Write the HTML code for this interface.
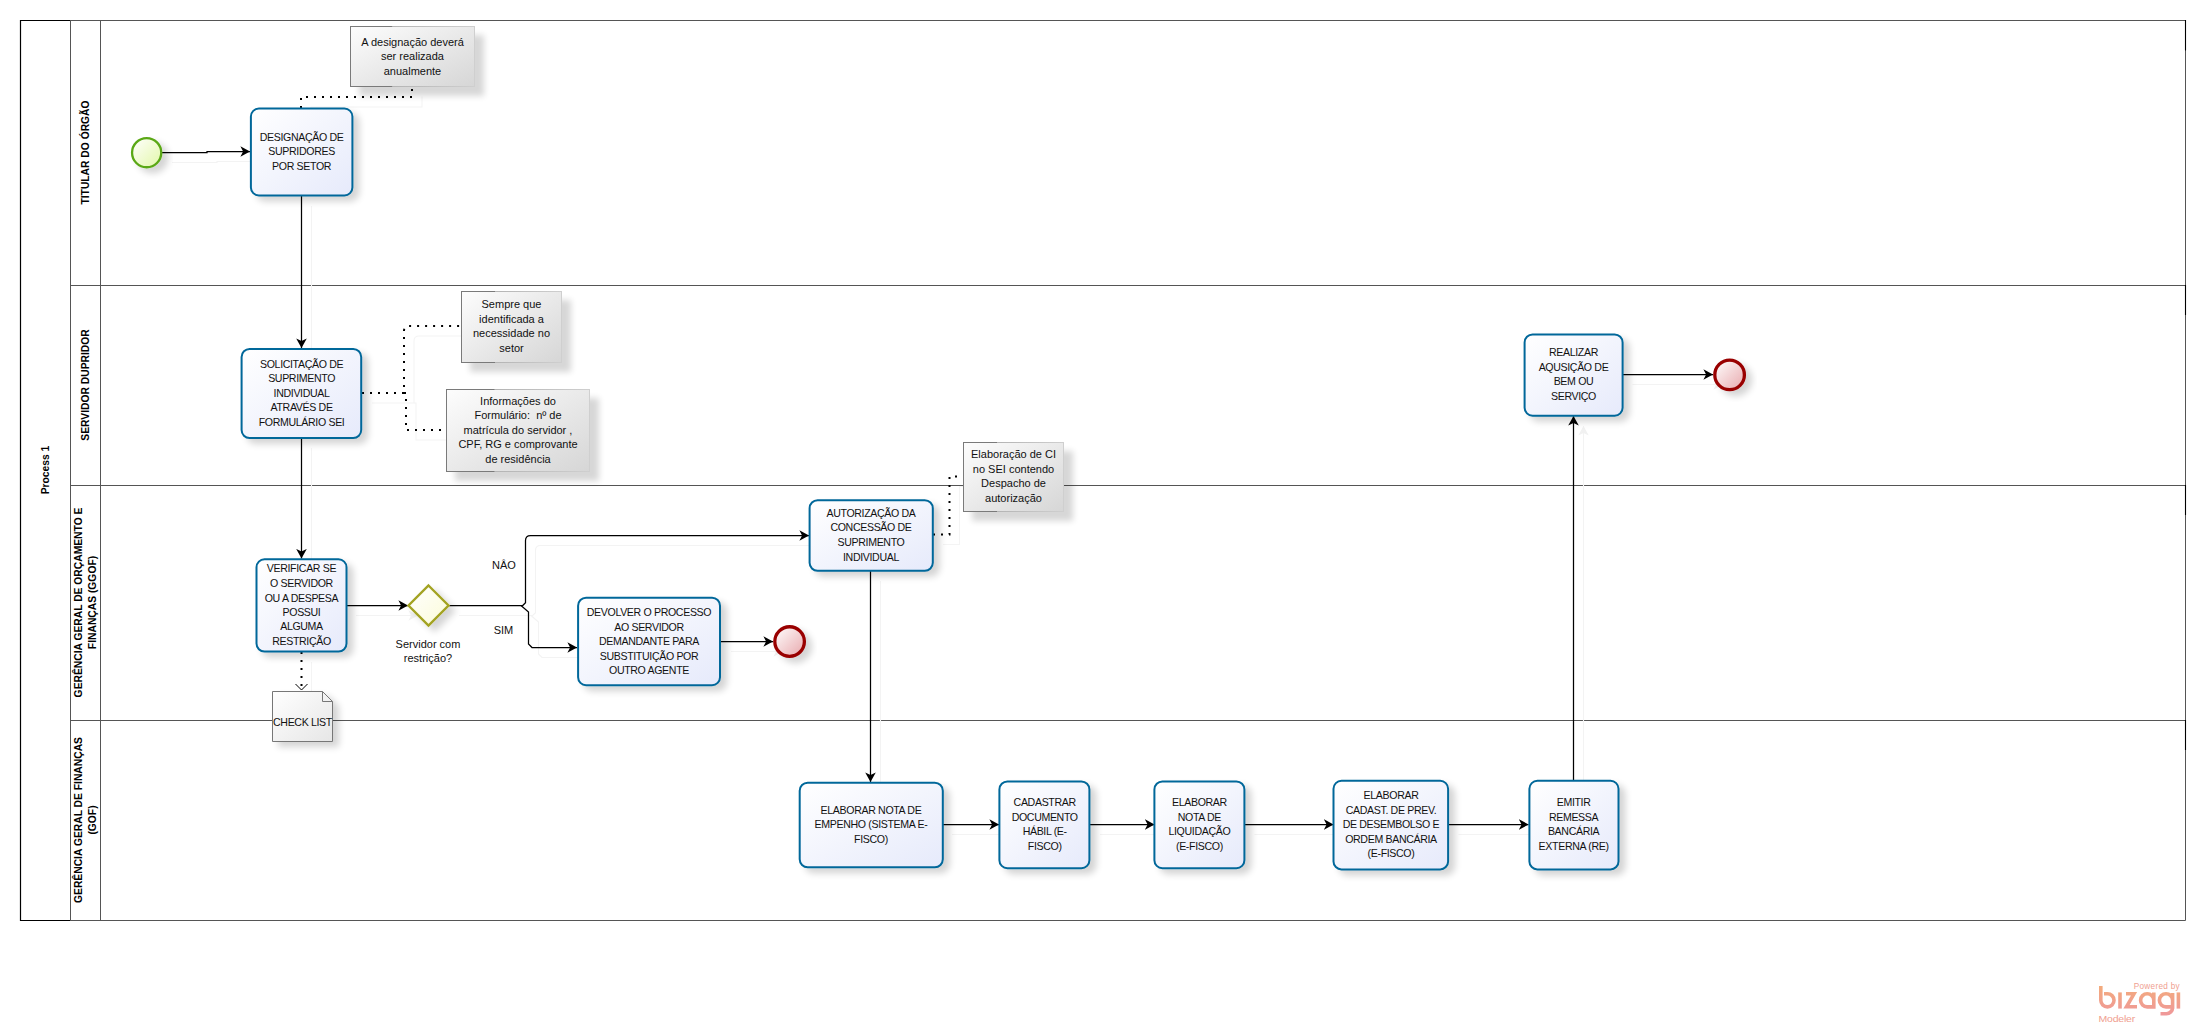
<!DOCTYPE html>
<html><head><meta charset="utf-8">
<style>
html,body{margin:0;padding:0;background:#fff;overflow:hidden;}
svg{display:block;}
text{font-family:"Liberation Sans",sans-serif;fill:#111;}
.t{font-size:10.6px;letter-spacing:-0.35px;text-anchor:middle;}
.a{font-size:11px;text-anchor:middle;}
.h{font-size:10.3px;font-weight:bold;text-anchor:middle;fill:#000;}
.task{fill:url(#gTask);stroke:#05679a;stroke-width:2;filter:url(#sh);}
.ann{fill:url(#gAnn);stroke:url(#gAnnS);stroke-width:1;filter:url(#sh2);}
.flow{fill:none;stroke:#000;stroke-width:1.25;}
.dot{fill:none;stroke:#000;stroke-width:2;stroke-dasharray:2 6;}
.lane{stroke:#555;stroke-width:1;fill:none;}
</style></head>
<body>
<svg width="2205" height="1033" viewBox="0 0 2205 1033">
<defs>
  <linearGradient id="gTask" x1="0" y1="0" x2="1" y2="1"><stop offset="0" stop-color="#ffffff"/><stop offset="1" stop-color="#e6eafb"/></linearGradient>
  <linearGradient id="gAnn" x1="0" y1="0" x2="1" y2="1"><stop offset="0" stop-color="#fdfdfd"/><stop offset="1" stop-color="#d6d6d6"/></linearGradient>
  <linearGradient id="gAnnS" x1="0" y1="0" x2="1" y2="0"><stop offset="0" stop-color="#7a7a7a"/><stop offset="0.33" stop-color="#7a7a7a"/><stop offset="0.34" stop-color="#b4b4b4"/><stop offset="1" stop-color="#cfcfcf"/></linearGradient>
  <linearGradient id="gStart" x1="0" y1="0" x2="1" y2="1"><stop offset="0" stop-color="#ffffff"/><stop offset="1" stop-color="#e2f7a8"/></linearGradient>
  <linearGradient id="gEnd" x1="0" y1="0" x2="1" y2="1"><stop offset="0" stop-color="#ffffff"/><stop offset="1" stop-color="#e8a8ac"/></linearGradient>
  <linearGradient id="gGw" x1="0" y1="0" x2="1" y2="1"><stop offset="0" stop-color="#ffffff"/><stop offset="1" stop-color="#fbfbd8"/></linearGradient>
  <linearGradient id="gDoc" x1="0" y1="0" x2="1" y2="1"><stop offset="0" stop-color="#ffffff"/><stop offset="1" stop-color="#e6e6e6"/></linearGradient>
  <filter id="sh" x="-30%" y="-30%" width="170%" height="170%"><feGaussianBlur in="SourceAlpha" stdDeviation="3.5"/><feOffset dx="6" dy="5"/><feComponentTransfer><feFuncA type="linear" slope="0.17"/></feComponentTransfer><feMerge><feMergeNode/><feMergeNode in="SourceGraphic"/></feMerge></filter>
  <filter id="sh2" x="-30%" y="-30%" width="170%" height="170%"><feGaussianBlur in="SourceAlpha" stdDeviation="3.2"/><feOffset dx="9" dy="9"/><feComponentTransfer><feFuncA type="linear" slope="0.16"/></feComponentTransfer><feMerge><feMergeNode/><feMergeNode in="SourceGraphic"/></feMerge></filter>
  <marker id="arr" viewBox="0 0 10 11" refX="9.6" refY="5.5" markerWidth="10" markerHeight="11" markerUnits="userSpaceOnUse" orient="auto"><path d="M0,0.2 L9.6,5.5 L0,10.8 L2.7,5.5 Z" fill="#000"/></marker>
  <marker id="arrS" viewBox="0 0 10 11" refX="9.6" refY="5.5" markerWidth="10" markerHeight="11" markerUnits="userSpaceOnUse" orient="auto"><path d="M0,0.2 L9.6,5.5 L0,10.8 L2.7,5.5 Z" fill="#f1f1f1"/></marker>
</defs>
<rect width="2205" height="1033" fill="#fff"/>

<!-- POOL -->
<g id="pool">
  <path class="lane" d="M70.5,20.5 H2185.5 V920.5 H70.5"/>
  <path d="M70.5,20.5 H20.5 V920.5 H70.5" fill="none" stroke="#000" stroke-width="1.2"/>
  <path class="lane" d="M70.5,20.5 V920.5 M100.5,20.5 V920.5 M70.5,285.5 H2185.5 M70.5,485.5 H2185.5 M70.5,720.5 H2185.5"/>
  <path d="M2185.5,20 V50.5 M2185.5,285 V315 M2185.5,485 V515 M2185.5,720 V750" fill="none" stroke="#000" stroke-width="1.1"/>
  <text class="h" font-size="10" transform="translate(48.5,470) rotate(-90)">Process 1</text>
  <text class="h" transform="translate(89,152.5) rotate(-90)">TITULAR DO ÓRGÃO</text>
  <text class="h" transform="translate(89,385) rotate(-90)">SERVIDOR DUPRIDOR</text>
  <text class="h" transform="translate(82,602.5) rotate(-90)">GERÊNCIA GERAL DE ORÇAMENTO E</text>
  <text class="h" transform="translate(96,602.5) rotate(-90)">FINANÇAS (GGOF)</text>
  <text class="h" transform="translate(82,820) rotate(-90)">GERÊNCIA GERAL DE FINANÇAS</text>
  <text class="h" transform="translate(96,820) rotate(-90)">(GOF)</text>
</g>

<g id="flowshadows" transform="translate(10,10)">
<path d="M162,152.5 H207 V151.5 H250" fill="none" stroke="#f3f3f3" stroke-width="1.1" marker-end="url(#arrS)"/>
<path d="M301.5,196 V348" fill="none" stroke="#f3f3f3" stroke-width="1.1" marker-end="url(#arrS)"/>
<path d="M301.5,438 V558.5" fill="none" stroke="#f3f3f3" stroke-width="1.1" marker-end="url(#arrS)"/>
<path d="M346,605.5 H408" fill="none" stroke="#f3f3f3" stroke-width="1.1" marker-end="url(#arrS)"/>
<path d="M449,605.5 H522.7 L525.5,602.7 V540.5 Q525.5,535.5 530.5,535.5 H809" fill="none" stroke="#f3f3f3" stroke-width="1.1" marker-end="url(#arrS)"/>
<path d="M521,605.5 L528.5,612 V644 L532,647.5 H577" fill="none" stroke="#f3f3f3" stroke-width="1.1" marker-end="url(#arrS)"/>
<path d="M721,641.5 H773" fill="none" stroke="#f3f3f3" stroke-width="1.1" marker-end="url(#arrS)"/>
<path d="M870.5,571 V782" fill="none" stroke="#f3f3f3" stroke-width="1.1" marker-end="url(#arrS)"/>
<path d="M942,824.5 H999" fill="none" stroke="#f3f3f3" stroke-width="1.1" marker-end="url(#arrS)"/>
<path d="M1090,824.5 H1154.5" fill="none" stroke="#f3f3f3" stroke-width="1.1" marker-end="url(#arrS)"/>
<path d="M1244.5,824.5 H1333.5" fill="none" stroke="#f3f3f3" stroke-width="1.1" marker-end="url(#arrS)"/>
<path d="M1448.5,824.5 H1528.5" fill="none" stroke="#f3f3f3" stroke-width="1.1" marker-end="url(#arrS)"/>
<path d="M1573.5,780 V416" fill="none" stroke="#f3f3f3" stroke-width="1.1" marker-end="url(#arrS)"/>
<path d="M1622.5,374.5 H1713" fill="none" stroke="#f3f3f3" stroke-width="1.1" marker-end="url(#arrS)"/>
</g>
<!-- FLOWS -->
<g id="flows">
<path class="flow" d="M162,152.5 H207 V151.5 H250" marker-end="url(#arr)"/>
<path class="flow" d="M301.5,196 V348" marker-end="url(#arr)"/>
<path class="flow" d="M301.5,438 V558.5" marker-end="url(#arr)"/>
<path class="flow" d="M346,605.5 H408" marker-end="url(#arr)"/>
<path class="flow" d="M449,605.5 H522.7 L525.5,602.7 V540.5 Q525.5,535.5 530.5,535.5 H809" marker-end="url(#arr)"/>
<path class="flow" d="M521,605.5 L528.5,612 V644 L532,647.5 H577" marker-end="url(#arr)"/>
<path class="flow" d="M721,641.5 H773" marker-end="url(#arr)"/>
<path class="flow" d="M870.5,571 V782" marker-end="url(#arr)"/>
<path class="flow" d="M942,824.5 H999" marker-end="url(#arr)"/>
<path class="flow" d="M1090,824.5 H1154.5" marker-end="url(#arr)"/>
<path class="flow" d="M1244.5,824.5 H1333.5" marker-end="url(#arr)"/>
<path class="flow" d="M1448.5,824.5 H1528.5" marker-end="url(#arr)"/>
<path class="flow" d="M1573.5,780 V416" marker-end="url(#arr)"/>
<path class="flow" d="M1622.5,374.5 H1713" marker-end="url(#arr)"/>
</g>
<g id="assocshadows" transform="translate(10,10)">
<path d="M301,108 V97 H412 V86.5" fill="none" stroke="#f4f4f4" stroke-width="1.1"/>
<path d="M362,393 H404 V331 Q404,326 409,326 H461" fill="none" stroke="#f4f4f4" stroke-width="1.1"/>
<path d="M404,393 H406 V430 H446" fill="none" stroke="#f4f4f4" stroke-width="1.1"/>
<path d="M933,534.5 H949.5 V476.5 H963" fill="none" stroke="#f4f4f4" stroke-width="1.1"/>
<path d="M301.5,652 V689" fill="none" stroke="#f4f4f4" stroke-width="1.1"/>
</g>
<!-- ASSOCIATIONS -->
<g id="assoc">
<path class="dot" d="M301,108 V97 H412 V86.5"/>
<path class="dot" d="M362,393 H404 V331 Q404,326 409,326 H461"/>
<path class="dot" d="M404,393 H406 V430 H446"/>
<path class="dot" d="M933,534.5 H949.5 V476.5 H963"/>
<path class="dot" d="M301.5,652 V689"/>
<path d="M295.5,684 L301.5,690 L307.5,684" fill="none" stroke="#000" stroke-width="1"/>
</g>
<!-- EVENTS -->
<circle cx="146.65" cy="152.65" r="14.6" fill="url(#gStart)" stroke="#5aa814" stroke-width="2.3" filter="url(#sh)"/>
<circle cx="789.6" cy="641.55" r="14.8" fill="url(#gEnd)" stroke="#990000" stroke-width="3.3" filter="url(#sh)"/>
<circle cx="1729.6" cy="374.9" r="14.8" fill="url(#gEnd)" stroke="#990000" stroke-width="3.3" filter="url(#sh)"/>
<!-- GATEWAY -->
<path d="M428.5,585.5 L448.5,605.5 L428.5,625.5 L408.5,605.5 Z" fill="url(#gGw)" stroke="#a3a322" stroke-width="2.4" filter="url(#sh)"/>
<text class="a"><tspan x="428" y="647.5">Servidor com</tspan><tspan x="428" y="662.3">restrição?</tspan></text>
<text class="a" x="504" y="569">NÂO</text>
<text class="a" x="503.5" y="634">SIM</text>
<!-- DATA OBJECT -->
<path d="M272.5,691.5 H322.5 L332.5,701.5 V741.5 H272.5 Z" fill="url(#gDoc)" stroke="#777" stroke-width="1" filter="url(#sh)"/>
<path d="M322.5,691.5 V701.5 H332.5" fill="none" stroke="#777" stroke-width="1"/>
<text class="t" x="302.5" y="725.5">CHECK LIST</text>
<!-- TASKS -->
<rect class="task" x="250.9" y="108.5" width="101.5" height="87" rx="8" ry="8"/>
<text class="t"><tspan x="301.6" y="140.7">DESIGNAÇÃO DE</tspan><tspan x="301.6" y="155.2">SUPRIDORES</tspan><tspan x="301.6" y="169.7">POR SETOR</tspan></text>
<rect class="task" x="241.6" y="348.9" width="119.6" height="89.2" rx="8" ry="8"/>
<text class="t"><tspan x="301.6" y="367.8">SOLICITAÇÃO DE</tspan><tspan x="301.6" y="382.25">SUPRIMENTO</tspan><tspan x="301.6" y="396.7">INDIVIDUAL</tspan><tspan x="301.6" y="411.15">ATRAVÉS DE</tspan><tspan x="301.6" y="425.6">FORMULÁRIO SEI</tspan></text>
<rect class="task" x="256.5" y="559.3" width="90" height="92.3" rx="8" ry="8"/>
<text class="t"><tspan x="301.5" y="571.8">VERIFICAR SE</tspan><tspan x="301.5" y="586.7">O SERVIDOR</tspan><tspan x="301.5" y="601.5">OU A DESPESA</tspan><tspan x="301.5" y="615.7">POSSUI</tspan><tspan x="301.5" y="630.3">ALGUMA</tspan><tspan x="301.5" y="644.9">RESTRIÇÃO</tspan></text>
<rect class="task" x="578.1" y="597.7" width="141.9" height="87.5" rx="8" ry="8"/>
<text class="t"><tspan x="649" y="616.0">DEVOLVER O PROCESSO</tspan><tspan x="649" y="630.5">AO SERVIDOR</tspan><tspan x="649" y="645.0">DEMANDANTE PARA</tspan><tspan x="649" y="659.5">SUBSTITUIÇÃO POR</tspan><tspan x="649" y="674.0">OUTRO AGENTE</tspan></text>
<rect class="task" x="809.6" y="500.2" width="123.2" height="70.6" rx="8" ry="8"/>
<text class="t"><tspan x="871" y="516.7">AUTORIZAÇÃO DA</tspan><tspan x="871" y="531.3">CONCESSÃO DE</tspan><tspan x="871" y="545.9">SUPRIMENTO</tspan><tspan x="871" y="560.5">INDIVIDUAL</tspan></text>
<rect class="task" x="799.7" y="782.7" width="143.1" height="84.6" rx="8" ry="8"/>
<text class="t"><tspan x="871" y="813.8">ELABORAR NOTA DE</tspan><tspan x="871" y="828.3">EMPENHO (SISTEMA E-</tspan><tspan x="871" y="842.8">FISCO)</tspan></text>
<rect class="task" x="999.4" y="781.4" width="90" height="86.8" rx="8" ry="8"/>
<text class="t"><tspan x="1044.7" y="806.3">CADASTRAR</tspan><tspan x="1044.7" y="820.8">DOCUMENTO</tspan><tspan x="1044.7" y="835.3">HÁBIL (E-</tspan><tspan x="1044.7" y="849.8">FISCO)</tspan></text>
<rect class="task" x="1154.4" y="781.4" width="90" height="86.8" rx="8" ry="8"/>
<text class="t"><tspan x="1199.4" y="806.3">ELABORAR</tspan><tspan x="1199.4" y="820.8">NOTA DE</tspan><tspan x="1199.4" y="835.3">LIQUIDAÇÃO</tspan><tspan x="1199.4" y="849.8">(E-FISCO)</tspan></text>
<rect class="task" x="1333.5" y="780.8" width="114.6" height="88.6" rx="8" ry="8"/>
<text class="t"><tspan x="1391" y="799.0">ELABORAR</tspan><tspan x="1391" y="813.5">CADAST. DE PREV.</tspan><tspan x="1391" y="828.0">DE DESEMBOLSO E</tspan><tspan x="1391" y="842.5">ORDEM BANCÁRIA</tspan><tspan x="1391" y="857.0">(E-FISCO)</tspan></text>
<rect class="task" x="1529.4" y="780.8" width="89.1" height="88.6" rx="8" ry="8"/>
<text class="t"><tspan x="1573.6" y="806.3">EMITIR</tspan><tspan x="1573.6" y="820.8">REMESSA</tspan><tspan x="1573.6" y="835.3">BANCÁRIA</tspan><tspan x="1573.6" y="849.8">EXTERNA (RE)</tspan></text>
<rect class="task" x="1524.6" y="334.4" width="98" height="81.3" rx="8" ry="8"/>
<text class="t"><tspan x="1573.5" y="356.0">REALIZAR</tspan><tspan x="1573.5" y="370.65">AQUSIÇÃO DE</tspan><tspan x="1573.5" y="385.3">BEM OU</tspan><tspan x="1573.5" y="399.95">SERVIÇO</tspan></text>
<!-- ANNOTATIONS -->
<rect class="ann" x="350.5" y="26.5" width="124" height="60"/>
<text class="a"><tspan x="412.5" y="45.5">A designação deverá</tspan><tspan x="412.5" y="60">ser realizada</tspan><tspan x="412.5" y="74.5">anualmente</tspan></text>
<rect class="ann" x="461.5" y="291.5" width="100" height="71"/>
<text class="a"><tspan x="511.5" y="308.0">Sempre que</tspan><tspan x="511.5" y="322.5">identificada a</tspan><tspan x="511.5" y="337.0">necessidade no</tspan><tspan x="511.5" y="351.5">setor</tspan></text>
<rect class="ann" x="446.5" y="389.5" width="143" height="82"/>
<text class="a"><tspan x="518" y="404.5">Informações do</tspan><tspan x="518" y="419.0">Formulário:&#160; nº de</tspan><tspan x="518" y="433.5">matrícula do servidor ,</tspan><tspan x="518" y="448.0">CPF, RG e comprovante</tspan><tspan x="518" y="462.5">de residência</tspan></text>
<rect class="ann" x="963.5" y="442.5" width="100" height="69"/>
<text class="a"><tspan x="1013.5" y="458.0">Elaboração de CI</tspan><tspan x="1013.5" y="472.5">no SEI contendo</tspan><tspan x="1013.5" y="487.0">Despacho de</tspan><tspan x="1013.5" y="501.5">autorização</tspan></text>
<!-- LOGO -->
<g id="logo">
<defs><linearGradient id="gLogo" x1="0" y1="986" x2="0" y2="1015" gradientUnits="userSpaceOnUse"><stop offset="0" stop-color="#f3ab7c"/><stop offset="1" stop-color="#ef989a"/></linearGradient></defs>
<text x="2180" y="988.5" style="font-size:8.2px;text-anchor:end;fill:#f0a090;letter-spacing:0.3px">Powered by</text>
<g fill="none" stroke="url(#gLogo)" stroke-width="3.6" stroke-linecap="butt">
<path d="M2100.8,986 V1000.3 A6.6,6.6 0 1 0 2107.4,993.7 H2104"/>
<path d="M2120,992.4 V1008.6"/>
<path d="M2126,993.8 H2134 L2126.5,1006.8 H2137"/>
<path d="M2153.8,1000.3 A6.6,6.6 0 1 0 2147.2,1006.9 H2153.8 V992.4"/>
<path d="M2172.6,1000.3 A6.6,6.6 0 1 0 2166,1006.9 H2172.6 V993 M2172.6,1000 V1007.5 A6.2,6.2 0 0 1 2166.4,1013.7 H2160.5"/>
<path d="M2178.4,992.4 V1008.6"/>
</g>
<text x="2098.5" y="1021.8" style="font-size:10.5px;fill:#f0a090;letter-spacing:-0.2px" transform="translate(2098.5,1021.8) scale(1,0.95) translate(-2098.5,-1021.8)">Modeler</text>
</g>
</svg>
</body></html>
